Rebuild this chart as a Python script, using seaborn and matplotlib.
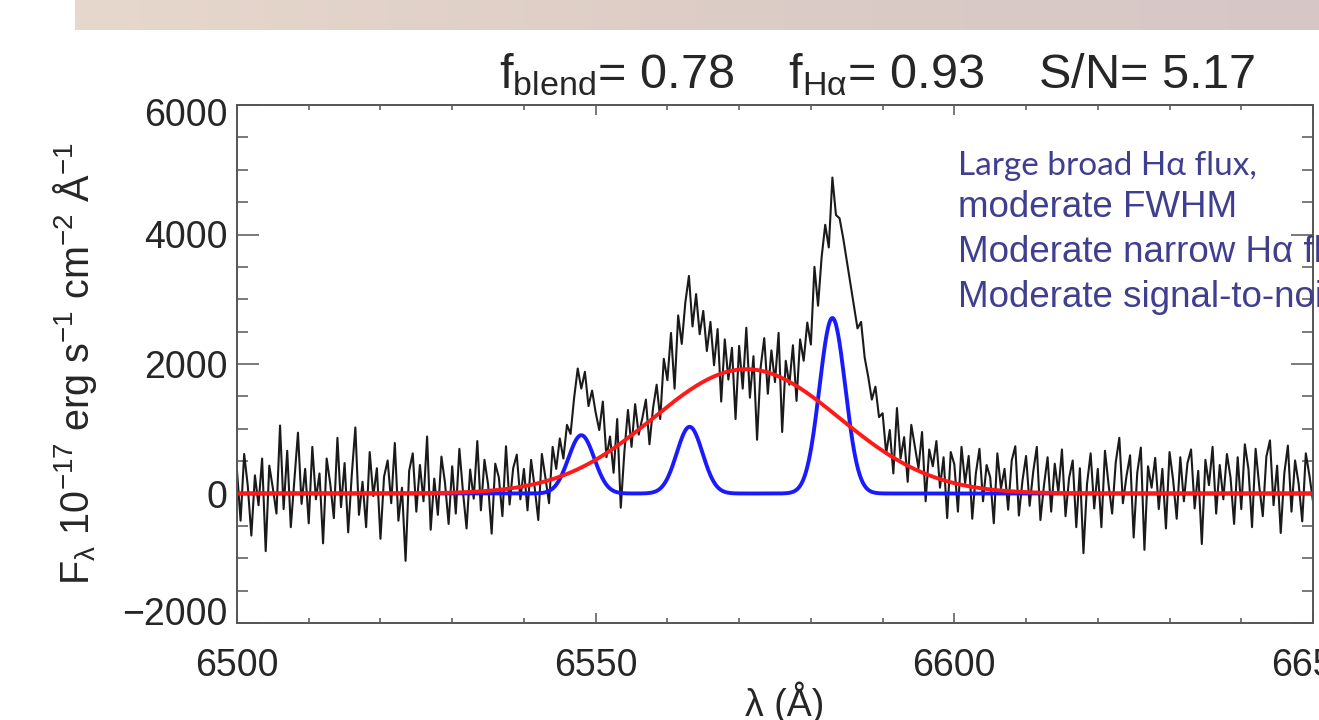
import numpy as np
import pandas as pd
import seaborn as sns
import matplotlib.pyplot as plt
import matplotlib.transforms as mtransforms
from matplotlib.ticker import MultipleLocator
from matplotlib.colors import LinearSegmentedColormap

# observed spectrum, 0.5 A sampling from 6500 to 6650
lam_start, lam_step = 6500.0, 0.5
flux = [
    350, -420, 610, 120, -650, 280, -180, 540, -890, 430, 80, -310, 1050, -240, 660, -520, 220, 940, -160, 380,
    -460, 720, -90, 310, -770, 540, 150, -380, 860, -210, 470, -600, 290, 1020, -330, 180, -520, 640, -40, 390,
    -700, 260, 510, -150, 780, -420, 90, -1040, 350, 620, -280, 440, -120, 880, -560, 230, -330, 570, 160, -470,
    420, -310, 690, 30, -540, 370, -80, 810, -260, 520, 140, -620, 460, 250, -350, 730, -170, 390, 600, -90,
    380, -260, 520, 90, -410, 610, 240, -150, 720, 380, 850, 540, 1060, 920, 1480, 1930, 1620, 1880, 1350, 1590,
    1250, 980, 1420, 560, 880, 320, 1150, -220, 640, 1290, 720, 1380, 910, 1160, 1450, 760, 1320, 1680, 1150, 2080,
    1750, 2480, 1620, 2750, 2310, 2950, 3360, 2580, 3080, 2460, 2820, 2200, 2650, 1980, 2540, 1420, 2380, 1760, 2250, 1150,
    2280, 1620, 2560, 1480, 2120, 830, 1950, 2400, 1540, 2210, 1720, 2480, 950, 2050, 1680, 2290, 1430, 2380, 2050, 2640,
    2300, 3500, 2900, 3650, 4150, 3800, 4880, 4300, 4250, 3950, 3600, 3250, 2900, 2550, 2650, 2100, 1800, 1450, 1650, 1180,
    1240, 620, 980, 310, 1320, 540, 870, 180, 1060, 720, 390, 950, -120, 680, 420, 810, 90, 560, -380, 640,
    450, -280, 720, 160, 580, -390, 310, 690, -120, 440, 250, -460, 620, 80, 380, -250, 510, 730, -340, 200,
    580, -190, 340, 720, -410, 130, 560, -280, 460, 20, 680, -350, 240, 510, -520, 390, -920, 150, 620, -230,
    380, -520, 660, 140, -310, 480, 860, -150, 270, 590, -680, 320, 710, -870, 420, 90, 550, -240, 380, -540,
    640, 210, -390, 560, -120, 470, 680, -230, 350, -780, 520, 130, 720, -310, 440, -90, 610, 250, -470, 560,
    -240, 760, 380, -520, 690, 120, -350, 570, 820, -180, 430, -610, 310, 740, -280, 510, 150, -430, 620, 280, -120,
]

# fitted gaussian components
narrow_centers = [6548.0, 6563.1, 6583.0]
narrow_amps = [900, 1030, 2710]
narrow_sigma = 1.8
broad_center = 6571.0
broad_amp = 1920
broad_sigma = 13.0

title_txt = '$\\mathregular{f_{blend}}$= 0.78    $\\mathregular{f_{Hα}}$= 0.93    S/N= 5.17'
notes = ['Large broad Hα flux,', 'moderate FWHM',
         'Moderate narrow Hα flux', 'Moderate signal-to-noise']

sns.set_style('ticks')
plt.rcParams['font.family'] = ['Liberation Sans', 'DejaVu Sans']
plt.rcParams['mathtext.fontset'] = 'custom'
plt.rcParams['mathtext.rm'] = 'Liberation Sans'
plt.rcParams['mathtext.it'] = 'Liberation Sans:italic'
plt.rcParams['mathtext.default'] = 'regular'

lam = lam_start + lam_step * np.arange(len(flux))
spec = pd.DataFrame({'wavelength': lam, 'flux': flux})

lam_fine = np.linspace(6500, 6650, 1501)
narrow = sum(a * np.exp(-(lam_fine - c) ** 2 / (2 * narrow_sigma ** 2))
             for c, a in zip(narrow_centers, narrow_amps))
broad = broad_amp * np.exp(-(lam_fine - broad_center) ** 2 / (2 * broad_sigma ** 2))
model = pd.DataFrame({'wavelength': lam_fine, 'narrow': narrow, 'broad': broad})

fig = plt.figure(figsize=(13.19, 7.2), dpi=100)

# slide banner on top
bax = fig.add_axes([75 / 1319, 1 - 30 / 720, 1 - 75 / 1319, 30 / 720])
cmap = LinearSegmentedColormap.from_list('band', ['#e7d8cd', '#ddcdc6', '#d6c6c6'])
bax.imshow(np.linspace(0, 1, 256)[None, :], aspect='auto', cmap=cmap)
bax.axis('off')

ax = fig.add_axes([237 / 1319, 1 - 623 / 720, 1076 / 1319, 518 / 720])
sns.lineplot(data=spec, x='wavelength', y='flux', ax=ax, color='#1a1a1a', lw=1.5)
sns.lineplot(data=model, x='wavelength', y='narrow', ax=ax, color='#1a1aff', lw=2.8)
sns.lineplot(data=model, x='wavelength', y='broad', ax=ax, color='#ff1a1a', lw=2.8)

ax.set_xlim(6500, 6650)
ax.set_ylim(-2000, 6000)
ax.xaxis.set_major_locator(MultipleLocator(50))
ax.xaxis.set_minor_locator(MultipleLocator(10))
ax.yaxis.set_major_locator(MultipleLocator(2000))
ax.yaxis.set_minor_locator(MultipleLocator(500))
ax.set_xlabel('')
ax.set_ylabel('')
for s in ax.spines.values():
    s.set_color('#555555')
    s.set_linewidth(1.4)
ax.tick_params(which='both', direction='in', top=True, right=True,
               color='#555555', width=1.1, labelsize=27)
ax.tick_params(axis='x', which='major', length=7.2, pad=18)
ax.tick_params(axis='x', which='minor', length=3.6)
ax.tick_params(axis='y', which='major', length=15.8, pad=7)
ax.tick_params(axis='y', which='minor', length=7.9)

# end labels sit inside the box, as in the original
fig.canvas.draw()
ylabels = ax.get_yticklabels()
for lab in ylabels:
    if lab.get_text() in ('6000',):
        lab.set_transform(lab.get_transform() + mtransforms.ScaledTranslation(0, -7 / 100, fig.dpi_scale_trans))
    if lab.get_text() in ('\u22122000', '-2000'):
        lab.set_transform(lab.get_transform() + mtransforms.ScaledTranslation(0, 12 / 100, fig.dpi_scale_trans))

fig.text(0.057, 1 - 364 / 720,
         'F$_λ$ 10$^{-17}$ erg s$^{-1}$ cm$^{-2}$ Å$^{-1}$',
         rotation=90, ha='center', va='center', fontsize=28.5)
fig.text(785 / 1319, 1 - 716 / 720, 'λ (Å)', ha='center', va='baseline', fontsize=27)
fig.text(877 / 1319, 1 - 88 / 720, title_txt, ha='center', va='baseline', fontsize=35)

note_col = '#403f8f'
fig.text(958 / 1319, 1 - 175 / 720, notes[0], family=['Lato', 'DejaVu Sans'],
         fontsize=24, color=note_col, va='baseline')
for txt, yb in zip(notes[1:], [217, 262, 307]):
    fig.text(958 / 1319, 1 - yb / 720, txt, fontsize=26.5, color=note_col, va='baseline')

fig.savefig('out.png', dpi=100)
